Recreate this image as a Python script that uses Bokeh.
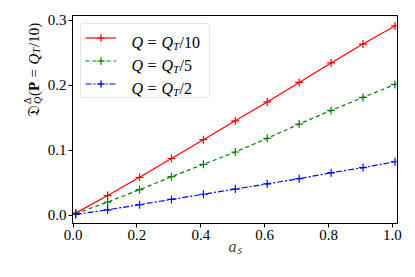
import math
from bokeh.plotting import figure
from bokeh.layouts import row
from bokeh.models import Range1d, FixedTicker, PrintfTickFormatter, Legend, LegendItem, Label
from bokeh.embed import file_html
from bokeh.resources import INLINE

# ---- data ----
a_s = [0.008, 0.108, 0.208, 0.308, 0.408, 0.508, 0.608, 0.708, 0.808, 0.908, 1.008]
d_qt10 = [0.003, 0.030, 0.058, 0.087, 0.116, 0.145, 0.174, 0.204, 0.234, 0.263, 0.291]
d_qt5 = [0.002, 0.020, 0.039, 0.059, 0.078, 0.097, 0.118, 0.140, 0.161, 0.181, 0.201]
d_qt2 = [0.001, 0.008, 0.016, 0.024, 0.032, 0.040, 0.048, 0.056, 0.065, 0.073, 0.082]
x_ticks = [0.0, 0.2, 0.4, 0.6, 0.8, 1.0]
y_ticks = [0.0, 0.1, 0.2, 0.3]
divisors = ["10", "5", "2"]

SERIF = "'Liberation Serif', serif"
FRAME_W, FRAME_H = 325, 208
BORDER_L, BORDER_T, BORDER_R, BORDER_B = 25, 15, 13, 46
YLAB_W = 44
TOTAL_H = BORDER_T + FRAME_H + BORDER_B

p = figure(frame_width=FRAME_W, frame_height=FRAME_H,
           x_range=Range1d(-0.002, 1.016), y_range=Range1d(-0.013, 0.307),
           output_backend="svg", toolbar_location=None,
           min_border_left=BORDER_L, min_border_top=BORDER_T,
           min_border_right=BORDER_R, min_border_bottom=BORDER_B,
           background_fill_color="white", border_fill_color="white")
p.grid.visible = False
p.outline_line_color = "black"
p.outline_line_width = 1

for ax in (p.xaxis[0], p.yaxis[0]):
    ax.major_label_text_font = SERIF
    ax.major_label_text_font_size = "15px"
    ax.major_label_text_color = "black"
    ax.major_tick_in = 0
    ax.major_tick_out = 4
    ax.major_tick_line_color = "black"
    ax.minor_tick_line_color = None
    ax.axis_line_color = "black"
    ax.formatter = PrintfTickFormatter(format="%.1f")
p.xaxis[0].major_label_standoff = 2
p.yaxis[0].major_label_standoff = 2
p.xaxis[0].ticker = FixedTicker(ticks=x_ticks)
p.yaxis[0].ticker = FixedTicker(ticks=y_ticks)

# x axis label  a_s
p.xaxis[0].axis_label = "aₛ"
p.xaxis[0].axis_label_text_font = SERIF
p.xaxis[0].axis_label_text_font_style = "italic"
p.xaxis[0].axis_label_text_font_size = "16px"
p.xaxis[0].axis_label_standoff = -5

styles = [
    ("#ff0000", "solid", d_qt10),
    ("#008000", "4 3", d_qt5),
    ("#0000ff", "6 2 2 2", d_qt2),
]
items = []
for (color, dash, ys) in styles:
    ln = p.line(a_s, ys, line_color=color, line_width=1.2, line_dash=dash)
    mk = p.scatter(a_s, ys, marker="cross", size=8, line_color=color, line_width=1.2)
    items.append(LegendItem(label=" ", renderers=[ln, mk]))

legend = Legend(items=items, location="top_left", margin=8, padding=4,
                spacing=4, glyph_width=31, glyph_height=19, label_height=19,
                label_width=74, label_standoff=15,
                border_line_color="#cccccc", border_line_width=1,
                background_fill_color="white", background_fill_alpha=0.0,
                label_text_font_size="8px")
if "border_radius" in Legend.properties():
    legend.border_radius = 3
p.add_layout(legend, "center")


def add_pieces(fig, pieces, x0, y0, angle=0.0):
    dx, dy = math.cos(angle), math.sin(angle)
    ux, uy = -math.sin(angle), math.cos(angle)
    for text, size, style, shift, along in pieces:
        lab = Label(x=x0 + along * dx + shift * ux, y=y0 + along * dy + shift * uy,
                    x_units="screen", y_units="screen", text=text, angle=angle,
                    text_font=SERIF, text_font_size=f"{size}px", text_font_style=style,
                    text_color="black", text_align="left", text_baseline="alphabetic",
                    level="overlay")
        fig.add_layout(lab)


# legend texts  Q = Q_T / n
row_baselines = [181.5, 158.5, 135.5]
for d, yb in zip(divisors, row_baselines):
    add_pieces(p, [("Q", 16, "italic", 0, 0),
                   ("=", 16, "normal", 0, 16),
                   ("Q", 16, "italic", 0, 30),
                   ("T", 11, "italic", -3.5, 41.5),
                   ("/" + d, 16, "normal", 0, 48)], 59, yb)

# y axis label  D^Delta_Q(P = Q_T/10), drawn in a narrow side figure
ylab = figure(width=YLAB_W, height=TOTAL_H,
              x_range=Range1d(0, YLAB_W), y_range=Range1d(0, TOTAL_H),
              x_axis_type=None, y_axis_type=None, output_backend="svg",
              toolbar_location=None, min_border=0, outline_line_color=None,
              background_fill_color="white", border_fill_color="white")
ylab.grid.visible = False
add_pieces(ylab, [("\U0001D507", 16, "normal", 0, 0),
                  ("Δ", 10, "normal", 6.5, 12.5),
                  ("Q", 10, "italic", -3.5, 12.5),
                  ("(", 15, "normal", 0, 20.5),
                  ("P", 15, "bold", 0, 25.5),
                  ("=", 15, "normal", 0, 39),
                  ("Q", 15, "italic", 0, 52),
                  ("T", 10, "italic", -3, 63),
                  ("/10)", 15, "normal", 0, 69.5)], 33, TOTAL_H - 162, angle=math.pi / 2)

layout = row(ylab, p, spacing=0)
open("out.html", "w").write(file_html(layout, INLINE))
